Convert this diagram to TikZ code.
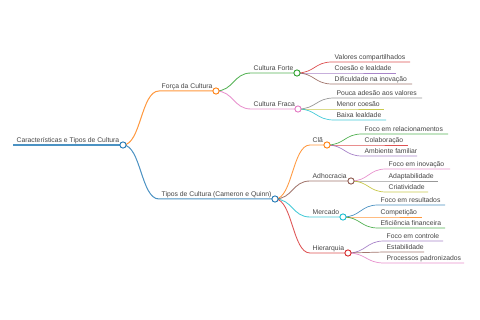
\documentclass[tikz,border=0pt]{standalone}
\usepackage{fontspec}
\setmainfont{Liberation Sans}
\usetikzlibrary{calc}
\definecolor{mblue}{HTML}{1F77B4}
\definecolor{morange}{HTML}{FF7F0E}
\definecolor{mgreen}{HTML}{2CA02C}
\definecolor{mred}{HTML}{D62728}
\definecolor{mpurple}{HTML}{9467BD}
\definecolor{mbrown}{HTML}{8C564B}
\definecolor{mpink}{HTML}{E377C2}
\definecolor{mgray}{HTML}{7F7F7F}
\definecolor{molive}{HTML}{BCBD22}
\definecolor{mcyan}{HTML}{17BECF}
\definecolor{txt}{HTML}{444444}
\tikzset{
  lbl/.style={anchor=base west, inner sep=0pt, text=txt, font=\fontsize{6.8}{8}\selectfont},
  dot/.style={circle, draw=#1, fill=white, line width=0.9pt, minimum size=6.2pt, inner sep=0pt},
  linkline/.style={line width=0.7pt, opacity=0.8},
}
\newcommand\mmlink[4]{%
  \draw[linkline,#4] let \p1=(#1),\p2=(#2) in
    (#1) .. controls ({0.5*\x1+0.5*\x2},\y1) and ({0.5*\x1+0.5*\x2},\y2) .. (#2) -- (#3);}
\newcommand\mmleaf[7]{%
  \coordinate (#1s) at (#3,#4);
  \coordinate (#1e) at (#5,#4);
  \mmlink{#2}{#1s}{#1e}{#6}
  \node[lbl] (#1) at ([xshift=2.5pt,yshift=2.5pt]#1s) {#7};}
\newcommand\mmnode[7]{%
  \coordinate (#1s) at (#3,#4);
  \coordinate (#1) at (#5,#4);
  \mmlink{#2}{#1s}{#1}{#6}
  \node[lbl] (#1t) at ([xshift=2.5pt,yshift=2.5pt]#1s) {#7};}
\begin{document}
\begin{tikzpicture}[x=1pt,y=-1pt]
\fill[white] (0,0) rectangle (480,320);
\useasboundingbox (0,0) rectangle (480,320);
% root
\coordinate (roots) at (13,145);
\coordinate (root) at (123,145);
\draw[linkline,mblue,line width=1.2pt] (roots) -- (root);
\node[lbl] (roott) at ([xshift=3.5pt,yshift=2.5pt]roots) {Características e Tipos de Cultura};
% level 1
\mmnode{forca}{root}{159}{91}{216}{morange,line width=1pt}{Força da Cultura}
\mmnode{tipos}{root}{159}{199}{275}{mblue,line width=1pt}{Tipos de Cultura (Cameron e Quinn)}
% level 2
\mmnode{forte}{forca}{251}{73}{297}{mgreen,line width=0.85pt}{Cultura Forte}
\mmnode{fraca}{forca}{251}{109}{298}{mpink,line width=0.85pt}{Cultura Fraca}
\mmnode{cla}{tipos}{310}{145}{327}{morange,line width=0.85pt}{Clã}
\mmnode{adho}{tipos}{310}{181}{351}{mbrown,line width=0.85pt}{Adhocracia}
\mmnode{merc}{tipos}{310}{217}{343}{mcyan,line width=0.85pt}{Mercado}
\mmnode{hier}{tipos}{310}{253}{348}{mred,line width=0.85pt}{Hierarquia}
% leaves
\mmleaf{l1}{forte}{332}{62}{410}{mred}{Valores compartilhados}
\mmleaf{l2}{forte}{332}{73}{396}{mpurple}{Coesão e lealdade}
\mmleaf{l3}{forte}{332}{84}{412}{mbrown}{Dificuldade na inovação}
\mmleaf{l4}{fraca}{334}{98}{422}{mgray}{Pouca adesão aos valores}
\mmleaf{l5}{fraca}{334}{109}{384}{molive}{Menor coesão}
\mmleaf{l6}{fraca}{334}{120}{386}{mcyan}{Baixa lealdade}
\mmleaf{l7}{cla}{362}{134}{448}{mgreen}{Foco em relacionamentos}
\mmleaf{l8}{cla}{362}{145}{408}{mred}{Colaboração}
\mmleaf{l9}{cla}{362}{156}{417}{mpurple}{Ambiente familiar}
\mmleaf{l10}{adho}{386}{169}{450}{mpink}{Foco em inovação}
\mmleaf{l11}{adho}{386}{181}{438}{mgray}{Adaptabilidade}
\mmleaf{l12}{adho}{386}{192}{428}{molive}{Criatividade}
\mmleaf{l13}{merc}{378}{205}{445}{mblue}{Foco em resultados}
\mmleaf{l14}{merc}{378}{217}{422}{morange}{Competição}
\mmleaf{l15}{merc}{378}{228}{445}{mgreen}{Eficiência financeira}
\mmleaf{l16}{hier}{384}{241}{443}{mpurple}{Foco em controle}
\mmleaf{l17}{hier}{384}{252}{424}{mbrown}{Estabilidade}
\mmleaf{l18}{hier}{384}{263}{464}{mpink}{Processos padronizados}
% circles
\foreach \n/\c in {root/mblue,forca/morange,tipos/mblue,forte/mgreen,fraca/mpink,cla/morange,adho/mbrown,merc/mcyan,hier/mred}
  \node[dot=\c] (\n c) at (\n) {};
\end{tikzpicture}
\end{document}
